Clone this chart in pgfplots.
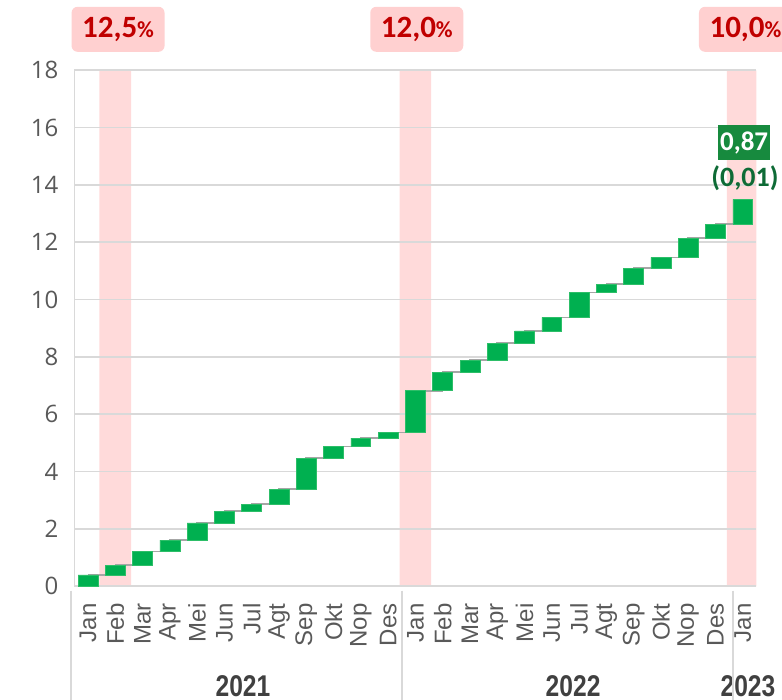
\documentclass[border=0pt]{standalone}
\usepackage{fontspec}
\setmainfont{Liberation Sans}
\newfontfamily\carlito{Carlito}
\newfontfamily\opensans{Open Sans}
\newfontfamily\narrow[FakeStretch=0.82]{Liberation Sans}
\usepackage{pgfplots}
\usepackage{pgfplotstable}
\pgfplotsset{compat=1.18}

\definecolor{bargreen}{HTML}{00B050}
\definecolor{baredge}{HTML}{2DBE68}
\definecolor{shade}{HTML}{FFDADA}
\definecolor{boxpink}{HTML}{FFD0D0}
\definecolor{darkred}{HTML}{C00000}
\definecolor{gridgray}{HTML}{D9D9D9}
\definecolor{linkgray}{HTML}{A6A6A6}
\definecolor{ticktext}{HTML}{595959}
\definecolor{yeartext}{HTML}{404040}
\definecolor{boxgreen}{HTML}{178A3E}
\definecolor{textgreen}{HTML}{0E6B36}

% cumulative value before (bot) and after (top) each month
\pgfplotstableread{
i  bot    top
0  0      0.40
1  0.40   0.74
2  0.74   1.21
3  1.21   1.61
4  1.61   2.21
5  2.21   2.62
6  2.62   2.87
7  2.87   3.39
8  3.39   4.47
9  4.47   4.88
10 4.88   5.17
11 5.17   5.37
12 5.37   6.82
13 6.82   7.47
14 7.47   7.89
15 7.89   8.48
16 8.48   8.91
17 8.91   9.38
18 9.38   10.25
19 10.25  10.54
20 10.54  11.10
21 11.10  11.47
22 11.47  12.14
23 12.14  12.63
24 12.63  13.50
}\cumdata

\pgfplotsset{base/.style={
  scale only axis, width=341pt, height=258pt,
  xmin=-0.5, xmax=24.5, ymin=0, ymax=18,
  at={(37.2pt,56.85pt)}, anchor=south west}}

\begin{document}
\begin{tikzpicture}
% shaded months and connectors
\begin{axis}[base, hide axis]
\addplot[ybar, bar width=1.16, fill=shade, draw=none] coordinates {(1,18) (12,18) (24,18)};
\addplot[const plot, linkgray, line width=0.8pt] table[x=i, y=top]{\cumdata};
\end{axis}

\begin{axis}[base, ybar stacked, bar width=0.73,
  axis x line*=bottom, axis y line*=left,
  axis line style={gridgray, line width=0.8pt},
  ymajorgrids, grid style={gridgray, line width=0.8pt},
  ytick={0,2,...,18}, xtick={0,...,24},
  xticklabels={Jan,Feb,Mar,Apr,Mei,Jun,Jul,Agt,Sep,Okt,Nop,Des,Jan,Feb,Mar,Apr,Mei,Jun,Jul,Agt,Sep,Okt,Nop,Des,Jan},
  major tick length=0pt,
  xticklabel shift=5pt,
  xticklabel style={rotate=90, anchor=east, font=\fontsize{12}{14}\selectfont, text=ticktext},
  yticklabel shift=4.5pt,
  yticklabel style={font=\opensans\fontsize{12}{14}\selectfont, text=ticktext},
  /pgf/number format/assume math mode=true,
  clip=false]
\addplot[draw=none, fill=none] table[x=i, y=bot]{\cumdata};
\addplot[fill=bargreen, draw=baredge, line width=0.3pt] table[x=i, y expr=\thisrow{top}-\thisrow{bot}]{\cumdata};

\tikzset{ratebox/.style={fill=boxpink, rounded corners=3pt, minimum width=46.5pt, minimum height=22.5pt, inner sep=0pt, text=darkred, font=\carlito\bfseries}}
\node[ratebox] at (axis cs:1.1,19.43) {\fontsize{15.5}{16}\selectfont 12,5\fontsize{11.5}{12}\selectfont\%};
\node[ratebox] at (axis cs:12.05,19.43) {\fontsize{15.5}{16}\selectfont 12,0\fontsize{11.5}{12}\selectfont\%};
\node[ratebox] at (axis cs:24.1,19.43) {\fontsize{15.5}{16}\selectfont 10,0\fontsize{11.5}{12}\selectfont\%};

\node[fill=boxgreen, text=white, font=\carlito\bfseries\fontsize{13.5}{14}\selectfont, minimum width=26pt, minimum height=17.5pt, inner sep=0pt] at (axis cs:24.05,15.47) {0,87};
\node[text=textgreen, font=\carlito\bfseries\fontsize{14}{15}\selectfont, inner sep=0pt] at (axis cs:24.08,14.24) {(0,01)};

\draw[gridgray, line width=0.8pt] (axis cs:-0.62,-0.15) -- (axis cs:-0.62,-4.3);
\draw[gridgray, line width=0.8pt] (axis cs:11.5,-0.15) -- (axis cs:11.5,-4.3);
\draw[gridgray, line width=0.8pt] (axis cs:23.64,-0.15) -- (axis cs:23.64,-4.3);
\tikzset{year/.style={text=yeartext, font=\narrow\bfseries\fontsize{15}{18}\selectfont}}
\node[year] at (axis cs:5.68,-3.47) {2021};
\node[year] at (axis cs:17.78,-3.47) {2022};
\node[year] at (axis cs:24.19,-3.47) {2023};
\end{axis}
\pgfresetboundingbox
\useasboundingbox (0,0) rectangle (391pt,350pt);
\end{tikzpicture}
\end{document}
